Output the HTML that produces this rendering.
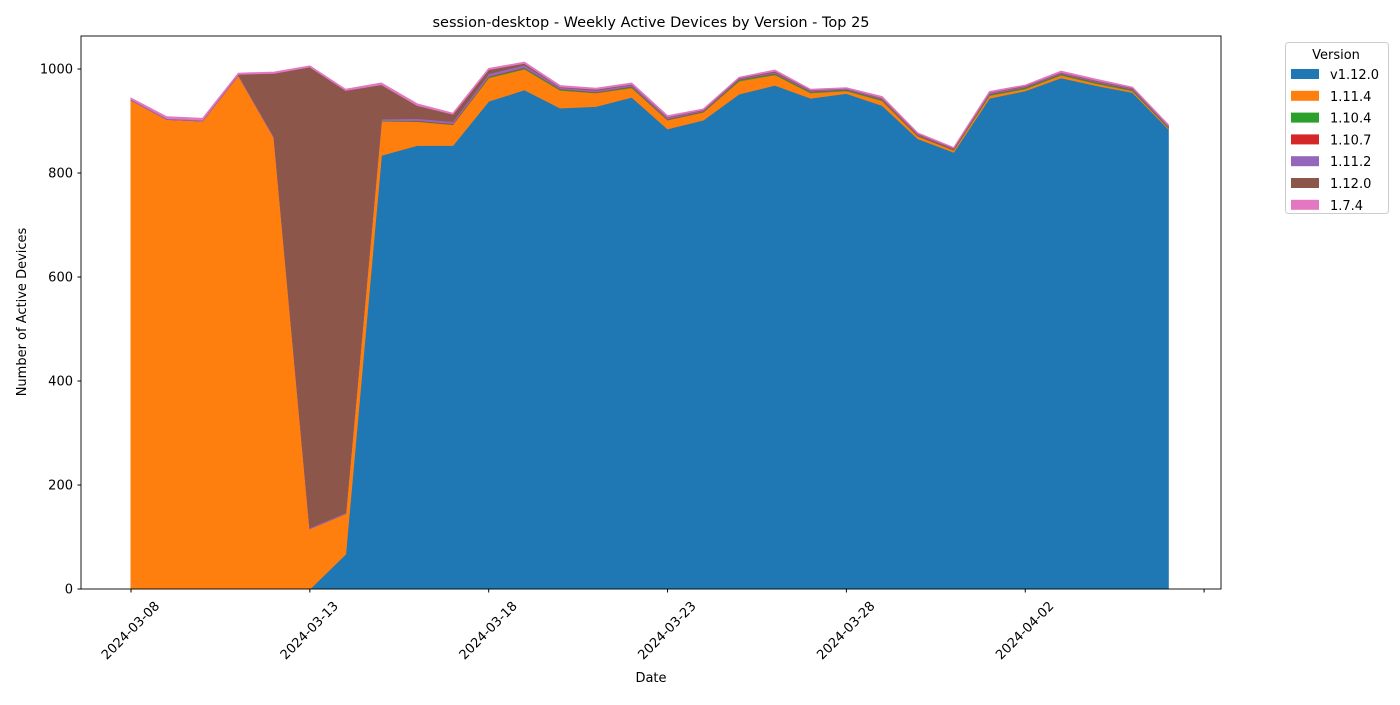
<!DOCTYPE html>
<html><head><meta charset="utf-8"><style>
body{margin:0;background:#fff;}
svg text{font-family:"DejaVu Sans","Liberation Sans",sans-serif;fill:#000;}
</style></head><body>
<svg id="chart" width="1400" height="700" xmlns="http://www.w3.org/2000/svg">
<text x="651" y="27" font-size="14.5" text-anchor="middle">session-desktop - Weekly Active Devices by Version - Top 25</text>
<g id="areas"></g>
<rect x="81" y="36" width="1140" height="553" fill="none" stroke="#000" stroke-width="0.9"/>
<g id="axes"></g>
<text x="651" y="682" font-size="13" text-anchor="middle">Date</text>
<text x="26" y="312" font-size="13" text-anchor="middle" transform="rotate(-90 26 312)">Number of Active Devices</text>
<g>
<rect x="1285.5" y="42.5" width="103" height="171" rx="3" fill="#fff" stroke="#ccc"/>
<text x="1336" y="59" font-size="13" text-anchor="middle">Version</text>
<g id="legend"></g>
</g>
</svg>
<script>
const dates=["2024-03-08","2024-03-09","2024-03-10","2024-03-11","2024-03-12","2024-03-13","2024-03-14","2024-03-15","2024-03-16","2024-03-17","2024-03-18","2024-03-19","2024-03-20","2024-03-21","2024-03-22","2024-03-23","2024-03-24","2024-03-25","2024-03-26","2024-03-27","2024-03-28","2024-03-29","2024-03-30","2024-03-31","2024-04-01","2024-04-02","2024-04-03","2024-04-04","2024-04-05","2024-04-06"];
const seriesNames=["v1.12.0","1.11.4","1.10.4","1.10.7","1.11.2","1.12.0","1.7.4"];
const colors=["#1f77b4","#ff7f0e","#2ca02c","#d62728","#9467bd","#8c564b","#e377c2"];
const v1120=[0,0,0,0,0,0,67,834,853,853,938,960,925,928,946,885,902,952,969,944,953,930,866,840,944,958,983,968,955,885];
const v1114=[940,903,900,988,868,116,78,66,46,40,45,40,34,26,18,17,15,25,20,10,5,9,5,4,5,4,5,4,3,2];
const v1104=[0,0,0,0,0,0,0,1,1,1,2,2,2,1,2,1,1,2,2,2,2,2,1,1,2,2,2,2,2,1];
const v1107=[0,0,0,0,0,0,0,0,1,1,1,1,1,1,1,1,1,1,1,1,1,1,1,1,1,1,1,1,1,1];
const v1112=[2,2,2,2,2,2,2,3,4,4,5,5,3,3,3,3,2,2,2,2,2,2,2,1,2,2,2,2,2,2];
const v1120b=[0,0,0,0,122,886,812,66,25,14,8,3,1,2,1,1,1,1,2,1,0,1,1,1,1,1,1,1,1,1];
const v174=[2,3,3,2,2,2,2,3,3,2,2,2,2,2,2,2,1,1,2,1,1,2,1,1,2,1,2,2,1,1];
const series=[v1120,v1114,v1104,v1107,v1112,v1120b,v174];
const yTicks=[0,200,400,600,800,1000];
const xTicks=["2024-03-08","2024-03-13","2024-03-18","2024-03-23","2024-03-28","2024-04-02","2024-04-07"];
const xTickLabels=["2024-03-08","2024-03-13","2024-03-18","2024-03-23","2024-03-28","2024-04-02",""];
const NS="http://www.w3.org/2000/svg";
const x0=131,dayW=35.77,y0=589,yS=0.52;
const d0=Date.UTC(2024,2,8);
function dayIdx(s){const p=s.split('-');return (Date.UTC(+p[0],+p[1]-1,+p[2])-d0)/86400000;}
function X(i){return x0+i*dayW;}
function Y(v){return y0-v*yS;}
const areas=document.getElementById('areas');
let base=dates.map(()=>0);
series.forEach((s,k)=>{
  const top=base.map((b,i)=>b+s[i]);
  let d="M"+dates.map((dt,i)=>X(dayIdx(dt)).toFixed(1)+","+Y(top[i]).toFixed(1)).join(" L");
  for(let i=dates.length-1;i>=0;i--) d+=" L"+X(dayIdx(dates[i])).toFixed(1)+","+Y(base[i]).toFixed(1);
  d+="Z";
  const p=document.createElementNS(NS,'path');
  p.setAttribute('d',d);p.setAttribute('fill',colors[k]);p.setAttribute('stroke',colors[k]);p.setAttribute('stroke-width','1');
  
  
  areas.appendChild(p);
  base=top;
});
const ax=document.getElementById('axes');
yTicks.forEach(t=>{
  const y=Y(t);
  const l=document.createElementNS(NS,'line');
  l.setAttribute('x1',77.5);l.setAttribute('x2',81);l.setAttribute('y1',y);l.setAttribute('y2',y);l.setAttribute('stroke','#000');
  
  
  ax.appendChild(l);
  const tx=document.createElementNS(NS,'text');
  tx.setAttribute('x',73);tx.setAttribute('y',y+4.5);tx.setAttribute('font-size','13');tx.setAttribute('text-anchor','end');
  tx.textContent=t;
  
  
  ax.appendChild(tx);
});
xTicks.forEach((s,i)=>{
  const x=X(dayIdx(s));
  const l=document.createElementNS(NS,'line');
  l.setAttribute('x1',x);l.setAttribute('x2',x);l.setAttribute('y1',589);l.setAttribute('y2',592.5);l.setAttribute('stroke','#000');
  
  
  ax.appendChild(l);
  if(!xTickLabels[i]) return;
  const tx=document.createElementNS(NS,'text');
  tx.setAttribute('x',x);tx.setAttribute('y',631);tx.setAttribute('font-size','13');tx.setAttribute('text-anchor','middle');
  tx.setAttribute('dominant-baseline','central');
  tx.setAttribute('transform','rotate(-45 '+x+' 631)');
  tx.textContent=xTickLabels[i];
  
  
  ax.appendChild(tx);
});
const lg=document.getElementById('legend');
seriesNames.forEach((n,k)=>{
  const y=69+k*21.8;
  const r=document.createElementNS(NS,'rect');
  r.setAttribute('x',1291);r.setAttribute('y',y);r.setAttribute('width',28);r.setAttribute('height',10);r.setAttribute('fill',colors[k]);
  
  
  lg.appendChild(r);
  const t=document.createElementNS(NS,'text');
  t.setAttribute('x',1330);t.setAttribute('y',y+10);t.setAttribute('font-size','13');
  t.textContent=n;
  
  
  lg.appendChild(t);
});
</script>
</body></html>
